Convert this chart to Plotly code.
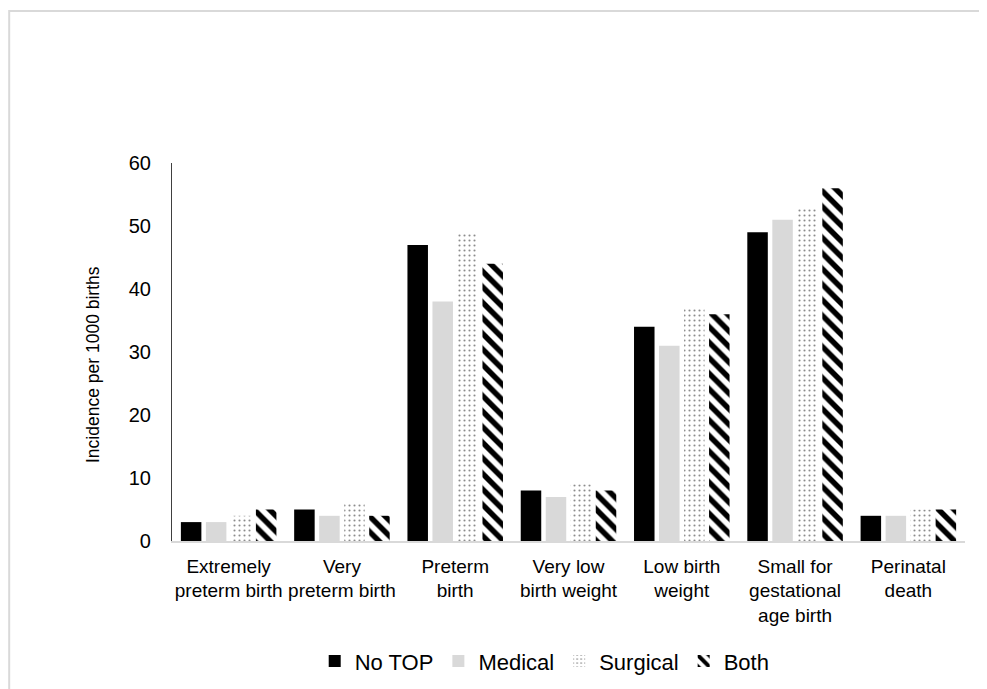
import plotly.graph_objects as go

categories = ["Extremely<br>preterm birth", "Very<br>preterm birth", "Preterm<br>birth",
              "Very low<br>birth weight", "Low birth<br>weight",
              "Small for<br>gestational<br>age birth", "Perinatal<br>death"]
no_top = [3, 5, 47, 8, 34, 49, 4]
medical = [3, 4, 38, 7, 31, 51, 4]
surgical = [4, 6, 49, 9, 37, 53, 5]
both = [5, 4, 44, 8, 36, 56, 5]
y_ticks = [0, 10, 20, 30, 40, 50, 60]
y_title = "Incidence per 1000 births"

FONT = "Liberation Sans, Arial, sans-serif"

fig = go.Figure()
fig.add_trace(go.Bar(name="No TOP", x=categories, y=no_top,
                     marker=dict(color="#000000", line=dict(width=0))))
fig.add_trace(go.Bar(name="Medical", x=categories, y=medical,
                     marker=dict(color="#d9d9d9", line=dict(width=0))))
fig.add_trace(go.Bar(name="Surgical", x=categories, y=surgical,
                     marker=dict(color="#ffffff", line=dict(width=0),
                                 pattern=dict(shape=".", fgcolor="#8c8c8c",
                                              bgcolor="#ffffff", size=5,
                                              solidity=0.14, fillmode="replace",
                                              fgopacity=1))))
fig.add_trace(go.Bar(name="Both", x=categories, y=both,
                     marker=dict(color="#ffffff", line=dict(width=0),
                                 pattern=dict(shape="\\", fgcolor="#000000",
                                              bgcolor="#ffffff", size=11,
                                              solidity=0.5, fillmode="replace",
                                              fgopacity=1))))

# page body has an 8px margin, so the figure is drawn 8px lower and to the right
L, T, PW, PH = 164, 155, 793, 378
fig.update_layout(
    width=979, height=681,
    paper_bgcolor="white", plot_bgcolor="white",
    barmode="group", bargap=0.117, bargroupgap=0.18,
    margin=dict(l=L, r=22, t=T, b=148, autoexpand=False),
    font=dict(family=FONT, color="#000000", size=19),
    legend=dict(orientation="h", x=0.47, xanchor="center", y=-0.318, yanchor="middle",
                font=dict(size=22, family=FONT), itemwidth=30, traceorder="normal"),
    xaxis=dict(showline=True, linecolor="#d9d9d9", linewidth=1.5, showgrid=False,
               ticks="", tickfont=dict(size=19, family=FONT), ticklabelstandoff=7,
               zeroline=False),
    yaxis=dict(range=[0, 60], tickvals=y_ticks, showline=True, linecolor="#404040",
               linewidth=1.2, showgrid=False, zeroline=False, ticks="",
               tickfont=dict(size=20, family=FONT), ticklabelstandoff=16),
    annotations=[dict(text=y_title, textangle=-90, showarrow=False,
                      xref="paper", yref="paper",
                      x=(85 - L) / PW, y=(T + PH - 357) / PH,
                      xanchor="center", yanchor="middle",
                      font=dict(size=17.5, family=FONT))],
    shapes=[dict(type="rect", xref="paper", yref="paper",
                 x0=(1.2 - L) / PW, x1=1.2, y0=-1.0, y1=(T + PH - 3) / PH,
                 line=dict(color="#d9d9d9", width=2), fillcolor="rgba(0,0,0,0)",
                 layer="below")],
)

fig.write_html("out.html")
